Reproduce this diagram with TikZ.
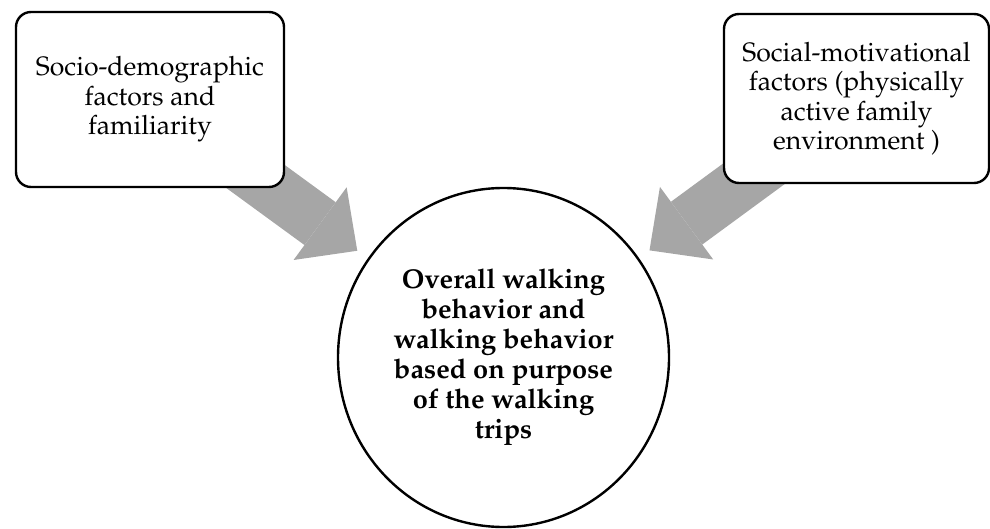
\documentclass[tikz,border=0pt]{standalone}
\usepackage[T1]{fontenc}
\renewcommand{\rmdefault}{ppl}
\usetikzlibrary{shapes.geometric,arrows.meta,backgrounds}
\definecolor{arrowgray}{RGB}{166,166,166}
\tikzset{
    factor/.style={draw, line width=1.2pt, rounded corners=7.5pt, fill=white, align=center, inner sep=0pt, font=\fontsize{13.3}{14.75}\selectfont},
    outcome/.style={draw, ellipse, line width=1.2pt, fill=white, align=center, inner sep=0pt, minimum width=165.5pt, minimum height=169.5pt, font=\fontsize{13.6}{15}\selectfont\bfseries},
    flow/.style={arrowgray, line width=26.5pt, -{Triangle[width=45pt,length=23pt,line width=0pt]}, shorten >=6.5pt}
}
\begin{document}
\begin{tikzpicture}[x=0.5pt,y=-0.5pt]
    \useasboundingbox (0,0) rectangle (990,529);
    \node[factor, minimum width=134pt, minimum height=87.5pt] (sdbox) at (150,99.5) {Socio-demographic\\factors and\\familiarity};
    \node[factor, minimum width=132.5pt, minimum height=84.5pt] (smbox) at (856.5,98.5) {Social-motivational\\factors (physically\\active family\\environment )};
    \node[outcome] (walk) at (503.5,357.5) {Overall walking\\behavior and\\walking behavior\\based on purpose\\of the walking\\trips};
    \begin{scope}[on background layer]
        \draw[flow] (sdbox.center) -- (walk);
        \draw[flow] (smbox.center) -- (walk);
    \end{scope}
\end{tikzpicture}
\end{document}
